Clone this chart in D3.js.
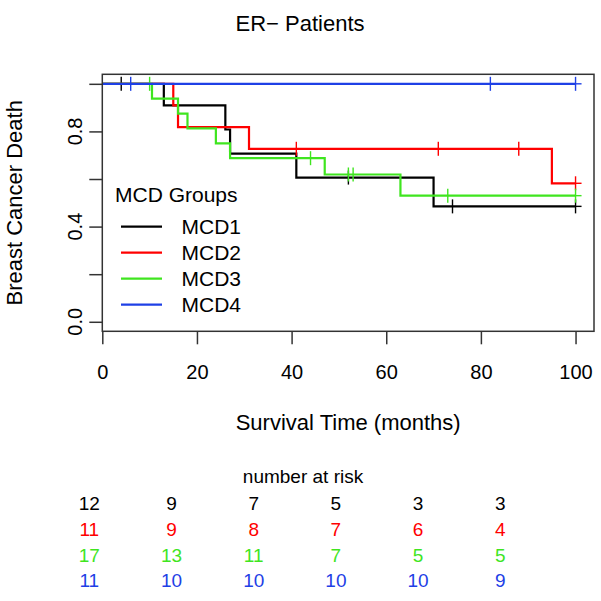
<!DOCTYPE html>
<meta charset="utf-8">
<body style="margin: 0; overflow: hidden; background: #fff">
<script src="https://d3js.org/d3.v7.min.js"></script>
<script>
    // survival curves: [time, survival after step]
    var groups = ["MCD1", "MCD2", "MCD3", "MCD4"];
    var groupColors = ["#000000", "#ff0000", "#3fe51f", "#1e40e6"];

    var mcd1Steps = [[0, 1], [13, 0.909], [26, 0.808], [27, 0.707], [41, 0.606], [70, 0.485]];
    var mcd2Steps = [[0, 1], [15, 0.909], [16, 0.818], [31, 0.727], [95, 0.582]];
    var mcd3Steps = [[0, 1], [10.5, 0.9375], [16, 0.875], [18, 0.8125], [24, 0.75], [27, 0.6875], [47, 0.619], [63, 0.53]];
    var mcd4Steps = [[0, 1]];

    var mcd1Censor = [4, 52, 74, 100];
    var mcd2Censor = [41, 71, 88, 100];
    var mcd3Censor = [10, 44, 52, 53, 73, 100];
    var mcd4Censor = [6, 82, 100];

    var endTime = 100;

    var xTicks = [0, 20, 40, 60, 80, 100];
    var yTicks = [0, 0.2, 0.4, 0.6, 0.8, 1.0];
    var yLabels = [0, 0.4, 0.8];

    var riskTimes = [0, 20, 40, 60, 80, 100];
    var riskMcd1 = [12, 9, 7, 5, 3, 3];
    var riskMcd2 = [11, 9, 8, 7, 6, 4];
    var riskMcd3 = [17, 13, 11, 7, 5, 5];
    var riskMcd4 = [11, 10, 10, 10, 10, 9];

    var steps = [mcd1Steps, mcd2Steps, mcd3Steps, mcd4Steps];
    var censors = [mcd1Censor, mcd2Censor, mcd3Censor, mcd4Censor];
    var risks = [riskMcd1, riskMcd2, riskMcd3, riskMcd4];

    var width = 601, height = 601;
    var font = "'Liberation Sans', Arial, Helvetica, sans-serif";

    var svg = d3.select("body").append("svg")
        .attr("width", width)
        .attr("height", height)
        .style("font-family", font);

    // plot box 102..594 x 74..331
    var x = d3.scaleLinear().domain([0, 103.9]).range([102.3, 594]);
    var y = d3.scaleLinear().domain([-0.04, 1.04]).range([331.3, 74.3]);

    // survival value at time t for a step list
    var survAt = function (st, t) {
        var s = 1;
        st.forEach(function (p) { if (p[0] <= t) s = p[1]; });
        return s;
    };

    // title
    svg.append("text")
        .attr("x", 300).attr("y", 31)
        .attr("text-anchor", "middle")
        .style("font-size", "22px")
        .text("ER\u2212 Patients");

    // curves
    var line = d3.line()
        .x(function (d) { return x(d[0]); })
        .y(function (d) { return y(d[1]); })
        .curve(d3.curveStepAfter);

    steps.forEach(function (st, i) {
        var pts = st.concat([[endTime, st[st.length - 1][1]]]);
        svg.append("path")
            .attr("d", line(pts))
            .attr("fill", "none")
            .attr("stroke", groupColors[i])
            .attr("stroke-width", 2.2);

        svg.append("g").selectAll("line")
            .data(censors[i])
            .enter().append("line")
            .attr("x1", function (t) { return x(t); })
            .attr("x2", function (t) { return x(t); })
            .attr("y1", function (t) { return y(survAt(st, t)) - 7; })
            .attr("y2", function (t) { return y(survAt(st, t)) + 7; })
            .attr("stroke", groupColors[i])
            .attr("stroke-width", 1.4);

        // small stub past the last censor like R draws
        svg.append("line")
            .attr("x1", x(endTime)).attr("x2", x(endTime) + 6)
            .attr("y1", y(st[st.length - 1][1])).attr("y2", y(st[st.length - 1][1]))
            .attr("stroke", groupColors[i])
            .attr("stroke-width", 1.4);
    });

    // box
    svg.append("rect")
        .attr("x", x.range()[0]).attr("y", y.range()[1])
        .attr("width", x.range()[1] - x.range()[0])
        .attr("height", y.range()[0] - y.range()[1])
        .attr("fill", "none")
        .attr("stroke", "#333")
        .attr("stroke-width", 1.5);

    // x axis
    var xAxis = svg.append("g")
        .attr("transform", "translate(0," + y.range()[0] + ")")
        .call(d3.axisBottom(x).tickValues(xTicks).tickSize(13).tickPadding(5).tickSizeOuter(0));
    xAxis.select(".domain").remove();
    xAxis.selectAll(".tick line").attr("stroke", "#333").attr("stroke-width", 1.5);
    xAxis.selectAll("text").style("font-size", "20px").style("font-family", font).attr("fill", "#000")
        .attr("dy", "0.71em").attr("y", 34);

    // y axis
    var yAxis = svg.append("g")
        .attr("transform", "translate(" + x.range()[0] + ",0)")
        .call(d3.axisLeft(y).tickValues(yTicks).tickSize(13).tickFormat(""));
    yAxis.select(".domain").remove();
    yAxis.selectAll(".tick line").attr("stroke", "#333").attr("stroke-width", 1.5);

    svg.append("g").selectAll("text")
        .data(yLabels)
        .enter().append("text")
        .attr("transform", function (d) { return "translate(81.5," + y(d) + ") rotate(-90)"; })
        .attr("text-anchor", "middle")
        .style("font-size", "20px")
        .text(function (d) { return d3.format(".1f")(d); });

    // axis titles
    svg.append("text")
        .attr("x", (x.range()[0] + x.range()[1]) / 2).attr("y", 429.5)
        .attr("text-anchor", "middle")
        .style("font-size", "22px")
        .text("Survival Time (months)");

    svg.append("text")
        .attr("transform", "translate(22," + (y.range()[0] + y.range()[1]) / 2 + ") rotate(-90)")
        .attr("text-anchor", "middle")
        .style("font-size", "22px")
        .text("Breast Cancer Death");

    // legend
    var legend = svg.append("g");
    legend.append("text")
        .attr("x", 115).attr("y", 201.5)
        .style("font-size", "21px")
        .text("MCD Groups");
    groups.forEach(function (g, i) {
        var ly = 226.7 + i * 26;
        legend.append("line")
            .attr("x1", 121).attr("x2", 162)
            .attr("y1", ly).attr("y2", ly)
            .attr("stroke", groupColors[i])
            .attr("stroke-width", 2.2);
        legend.append("text")
            .attr("x", 181.5).attr("y", ly + 7.5)
            .style("font-size", "21px")
            .text(g);
    });

    // number at risk table
    var rx = d3.scaleLinear().domain([0, 100]).range([89.3, 500.3]);
    svg.append("text")
        .attr("x", 303).attr("y", 483.3)
        .attr("text-anchor", "middle")
        .style("font-size", "19px")
        .text("number at risk");

    risks.forEach(function (row, i) {
        svg.append("g").selectAll("text")
            .data(row)
            .enter().append("text")
            .attr("x", function (d, j) { return rx(riskTimes[j]); })
            .attr("y", 510 + i * 25.8)
            .attr("text-anchor", "middle")
            .attr("fill", groupColors[i])
            .style("font-size", "19px")
            .text(function (d) { return d; });
    });
</script>
